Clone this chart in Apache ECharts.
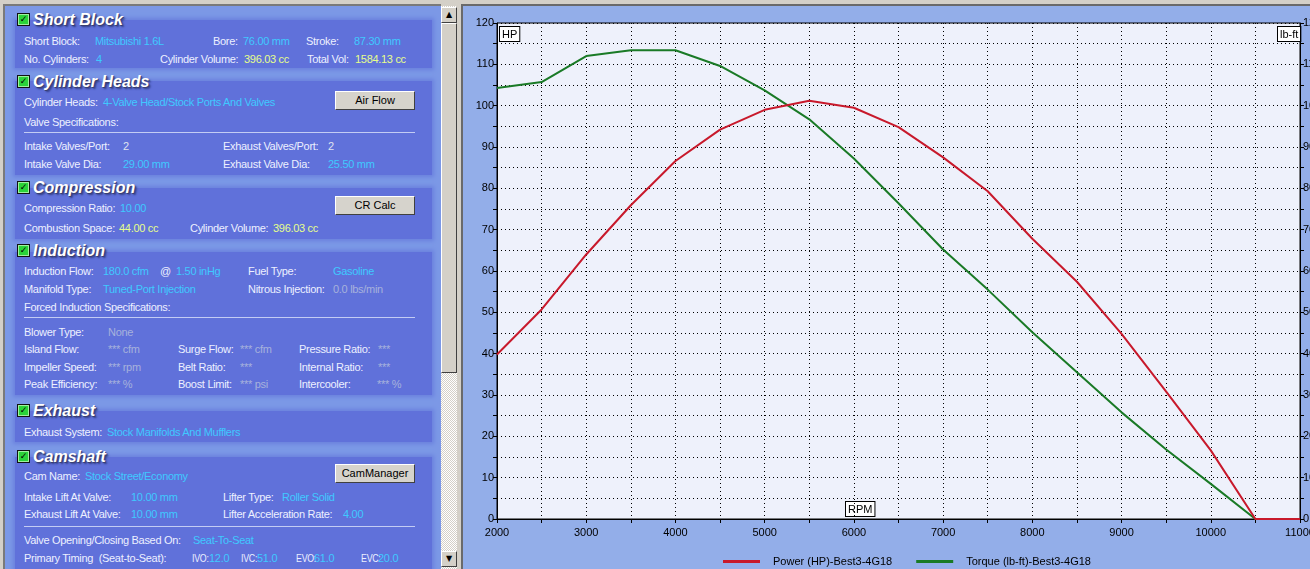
<!DOCTYPE html>
<html>
<head>
<meta charset="utf-8">
<script src="https://cdn.jsdelivr.net/npm/echarts@6/dist/echarts.min.js"></script>
<style>
  html, body { margin:0; padding:0; width:1310px; height:569px; overflow:hidden; background:#d4d0c8; font-family:"Liberation Sans", Arial, sans-serif; }
  #panel { position:absolute; left:3px; top:4px; width:438px; height:565px; background:#7c98e6; border-left:2px solid #7a7a7a; border-top:2px solid #7a7a7a; box-sizing:border-box; }
  .box { position:absolute; left:15px; width:417px; background:#6071da; box-shadow:0 0 4px 2px #6a80de; }
  .hd { position:absolute; left:33px; font:bold italic 16px "Liberation Sans", Arial, sans-serif; color:#fff; text-shadow:1px 1px 0 #3a3f70, 2px 2px 2px #2e3a80; line-height:16px; white-space:nowrap; }
  .cb { position:absolute; left:17px; width:11px; height:11px; background:#2bd33a; border:1px solid #111; box-shadow:inset 0 0 0 1px #9ff0a0; font:bold 9px "DejaVu Sans", sans-serif; line-height:11px; text-align:center; color:#000; }
  .l { position:absolute; font:11px "Liberation Sans", Arial, sans-serif; letter-spacing:-0.3px; line-height:14px; color:#edf0ff; white-space:nowrap; }
  .n { transform:scaleX(0.8); transform-origin:0 50%; }
  .c { color:#3fc9ff; }
  .y { color:#e6ff8c; }
  .g { color:#a7b1dc; }
  .w { color:#dfe2f0; }
  .sep { position:absolute; left:24px; width:391px; height:1px; background:#c3ccf4; }
  .btn { position:absolute; left:335px; width:78px; height:17px; background:#d6d3cc; border:1px solid; border-color:#fff #404040 #404040 #fff; font:11px "Liberation Sans", Arial, sans-serif; line-height:17px; text-align:center; color:#000; }
  #sb { position:absolute; left:441px; top:6px; width:16px; height:563px; background:repeating-conic-gradient(#d4d0c8 0 25%, #fff 0 50%) 0 0/2px 2px; }
  .sbb { position:absolute; left:0; width:14px; background:#d4d0c8; border:1px solid; border-color:#fff #404040 #404040 #fff; font:8px "DejaVu Sans", sans-serif; text-align:center; color:#000; }
  #chart { position:absolute; left:461px; top:4px; width:870px; height:565px; background:#93aee9; border-left:2px solid #6a6a6a; border-top:2px solid #6a6a6a; box-sizing:border-box; }
</style>
</head>
<body>
<div id="panel"></div>

<!-- Short Block -->
<div class="box" style="top:20px;height:48px"></div>
<div class="cb" style="top:13px">✓</div><div class="hd" style="top:12px">Short Block</div>
<span class="l" style="left:24px;top:34px">Short Block:</span>
<span class="l c" style="left:95px;top:34px">Mitsubishi 1.6L</span>
<span class="l" style="left:213px;top:34px">Bore:</span>
<span class="l c" style="left:243px;top:34px">76.00 mm</span>
<span class="l" style="left:306px;top:34px">Stroke:</span>
<span class="l c" style="left:354px;top:34px">87.30 mm</span>
<span class="l" style="left:24px;top:52px">No. Cylinders:</span>
<span class="l c" style="left:96px;top:52px">4</span>
<span class="l" style="left:160px;top:52px">Cylinder Volume:</span>
<span class="l y" style="left:244px;top:52px">396.03 cc</span>
<span class="l" style="left:307px;top:52px">Total Vol:</span>
<span class="l y" style="left:355px;top:52px">1584.13 cc</span>

<!-- Cylinder Heads -->
<div class="box" style="top:81px;height:94px"></div>
<div class="cb" style="top:75px">✓</div><div class="hd" style="top:74px">Cylinder Heads</div>
<span class="l" style="left:24px;top:95px">Cylinder Heads:</span>
<span class="l c" style="left:103px;top:95px">4-Valve Head/Stock Ports And Valves</span>
<div class="btn" style="top:91px">Air Flow</div>
<span class="l" style="left:24px;top:115px">Valve Specifications:</span>
<div class="sep" style="top:132px"></div>
<span class="l" style="left:24px;top:139px">Intake Valves/Port:</span>
<span class="l w" style="left:123px;top:139px">2</span>
<span class="l" style="left:223px;top:139px">Exhaust Valves/Port:</span>
<span class="l w" style="left:328px;top:139px">2</span>
<span class="l" style="left:24px;top:157px">Intake Valve Dia:</span>
<span class="l c" style="left:123px;top:157px">29.00 mm</span>
<span class="l" style="left:223px;top:157px">Exhaust Valve Dia:</span>
<span class="l c" style="left:328px;top:157px">25.50 mm</span>

<!-- Compression -->
<div class="box" style="top:188px;height:51px"></div>
<div class="cb" style="top:181px">✓</div><div class="hd" style="top:180px">Compression</div>
<span class="l" style="left:24px;top:201px">Compression Ratio:</span>
<span class="l c" style="left:120px;top:201px">10.00</span>
<div class="btn" style="top:196px">CR Calc</div>
<span class="l" style="left:24px;top:221px">Combustion Space:</span>
<span class="l y" style="left:119px;top:221px">44.00 cc</span>
<span class="l" style="left:190px;top:221px">Cylinder Volume:</span>
<span class="l y" style="left:273px;top:221px">396.03 cc</span>

<!-- Induction -->
<div class="box" style="top:252px;height:143px"></div>
<div class="cb" style="top:244px">✓</div><div class="hd" style="top:243px">Induction</div>
<span class="l" style="left:24px;top:264px">Induction Flow:</span>
<span class="l c" style="left:103px;top:264px">180.0 cfm</span>
<span class="l" style="left:160px;top:264px">@</span>
<span class="l c" style="left:176px;top:264px">1.50 inHg</span>
<span class="l" style="left:248px;top:264px">Fuel Type:</span>
<span class="l c" style="left:333px;top:264px">Gasoline</span>
<span class="l" style="left:24px;top:282px">Manifold Type:</span>
<span class="l c" style="left:103px;top:282px">Tuned-Port Injection</span>
<span class="l" style="left:248px;top:282px">Nitrous Injection:</span>
<span class="l g" style="left:333px;top:282px">0.0 lbs/min</span>
<span class="l" style="left:24px;top:300px">Forced Induction Specifications:</span>
<div class="sep" style="top:317px"></div>
<span class="l" style="left:24px;top:325px">Blower Type:</span>
<span class="l g" style="left:108px;top:325px">None</span>
<span class="l" style="left:24px;top:342px">Island Flow:</span>
<span class="l g" style="left:108px;top:342px">*** cfm</span>
<span class="l" style="left:178px;top:342px">Surge Flow:</span>
<span class="l g" style="left:240px;top:342px">*** cfm</span>
<span class="l" style="left:299px;top:342px">Pressure Ratio:</span>
<span class="l g" style="left:378px;top:342px">***</span>
<span class="l" style="left:24px;top:360px">Impeller Speed:</span>
<span class="l g" style="left:108px;top:360px">*** rpm</span>
<span class="l" style="left:178px;top:360px">Belt Ratio:</span>
<span class="l g" style="left:240px;top:360px">***</span>
<span class="l" style="left:299px;top:360px">Internal Ratio:</span>
<span class="l g" style="left:378px;top:360px">***</span>
<span class="l" style="left:24px;top:377px">Peak Efficiency:</span>
<span class="l g" style="left:108px;top:377px">*** %</span>
<span class="l" style="left:178px;top:377px">Boost Limit:</span>
<span class="l g" style="left:240px;top:377px">*** psi</span>
<span class="l" style="left:299px;top:377px">Intercooler:</span>
<span class="l g" style="left:377px;top:377px">*** %</span>

<!-- Exhaust -->
<div class="box" style="top:411px;height:31px"></div>
<div class="cb" style="top:404px">✓</div><div class="hd" style="top:403px">Exhaust</div>
<span class="l" style="left:24px;top:425px">Exhaust System:</span>
<span class="l c" style="left:107px;top:425px">Stock Manifolds And Mufflers</span>

<!-- Camshaft -->
<div class="box" style="top:457px;height:120px"></div>
<div class="cb" style="top:450px">✓</div><div class="hd" style="top:449px">Camshaft</div>
<span class="l" style="left:24px;top:469px">Cam Name:</span>
<span class="l c" style="left:85px;top:469px">Stock Street/Economy</span>
<div class="btn" style="top:464px">CamManager</div>
<span class="l" style="left:24px;top:490px">Intake Lift At Valve:</span>
<span class="l c" style="left:131px;top:490px">10.00 mm</span>
<span class="l" style="left:223px;top:490px">Lifter Type:</span>
<span class="l c" style="left:282px;top:490px">Roller Solid</span>
<span class="l" style="left:24px;top:507px">Exhaust Lift At Valve:</span>
<span class="l c" style="left:131px;top:507px">10.00 mm</span>
<span class="l" style="left:223px;top:507px">Lifter Acceleration Rate:</span>
<span class="l c" style="left:343px;top:507px">4.00</span>
<div class="sep" style="top:526px"></div>
<span class="l" style="left:24px;top:533px">Valve Opening/Closing Based On:</span>
<span class="l c" style="left:193px;top:533px">Seat-To-Seat</span>
<span class="l" style="left:24px;top:551px">Primary Timing &nbsp;(Seat-to-Seat):</span>
<span class="l n" style="left:192px;top:551px">IVO:</span>
<span class="l c" style="left:209px;top:551px">12.0</span>
<span class="l n" style="left:241px;top:551px">IVC:</span>
<span class="l c" style="left:257px;top:551px">51.0</span>
<span class="l n" style="left:296px;top:551px">EVO:</span>
<span class="l c" style="left:314px;top:551px">61.0</span>
<span class="l n" style="left:361px;top:551px">EVC:</span>
<span class="l c" style="left:378px;top:551px">20.0</span>

<!-- scrollbar -->
<div id="sb">
  <div class="sbb" style="top:1px;height:14px;line-height:14px">▲</div>
  <div class="sbb" style="top:17px;height:348px"></div>
  <div class="sbb" style="top:545px;height:14px;line-height:14px">▼</div>
</div>

<div id="chart"></div>

<script>
var rpm    = [2000, 2500, 3000, 3500, 4000, 4500, 5000, 5500, 6000, 6500, 7000, 7500, 8000, 8500, 9000, 9500, 10000, 10500, 11000];
var power  = [39.8, 50.7, 64.0, 75.9, 86.6, 94.2, 99.0, 101.2, 99.5, 94.8, 87.5, 79.3, 67.8, 57.4, 44.8, 30.8, 16.6, 0, 0];
var torque = [104.3, 105.7, 112.0, 113.4, 113.4, 109.6, 103.7, 96.7, 87.2, 76.4, 65.2, 55.5, 45.2, 35.5, 25.8, 16.8, 8.5, 0, 0];
var seriesNames = ['Power (HP)-Best3-4G18', 'Torque (lb-ft)-Best3-4G18'];

var chart = echarts.init(document.getElementById('chart'));
var font = 'Liberation Sans';

function pairs(ys) {
    return rpm.map(function (r, i) { return [r, ys[i]]; });
}

function yAxis(pos, grid) {
    return {
        type: 'value',
        position: pos,
        min: 0,
        max: 120,
        interval: 5,
        axisLine: { show: true, lineStyle: { color: '#000', width: 1 } },
        axisTick: { show: true, length: 4, lineStyle: { color: '#000' } },
        axisLabel: {
            color: '#000', fontSize: 11, fontFamily: font, margin: 3,
            formatter: function (v) { return v % 10 === 0 ? v : ''; }
        },
        splitLine: { show: grid, lineStyle: { color: '#000', width: 1, type: [1, 3] } }
    };
}

var option = {
    animation: false,
    grid: {
        left: 34, top: 17, right: 31, bottom: 50,
        show: true, backgroundColor: '#eef1fb', borderColor: '#000', borderWidth: 1
    },
    legend: {
        data: seriesNames,
        top: 545,
        left: 255,
        icon: 'rect',
        itemWidth: 37,
        itemHeight: 3,
        itemGap: 24,
        textStyle: { color: '#000', fontSize: 11, fontFamily: font, padding: [0, 0, 0, 8] }
    },
    xAxis: {
        type: 'value',
        min: 2000,
        max: 11000,
        interval: 500,
        axisLine: { lineStyle: { color: '#000', width: 1 } },
        axisTick: { length: 4, lineStyle: { color: '#000' } },
        axisLabel: {
            color: '#000', fontSize: 11, fontFamily: font, margin: 8,
            formatter: function (v) { return v % 1000 === 0 ? v : ''; }
        },
        splitLine: { show: true, lineStyle: { color: '#000', width: 1, type: [1, 3] } }
    },
    yAxis: [yAxis('left', true), yAxis('right', false)],
    graphic: [
        { type: 'text', left: 36, top: 20, style: { text: 'HP', font: '11px Liberation Sans', fill: '#000', backgroundColor: '#fff', borderColor: '#000', borderWidth: 1, padding: [2, 2, 1, 2] } },
        { type: 'text', left: 814, top: 20, style: { text: 'lb-ft', font: '11px Liberation Sans', fill: '#000', backgroundColor: '#fff', borderColor: '#000', borderWidth: 1, padding: [2, 2, 1, 2] } },
        { type: 'text', left: 382, top: 495, style: { text: 'RPM', font: '11px Liberation Sans', fill: '#000', backgroundColor: '#fff', borderColor: '#000', borderWidth: 1, padding: [2, 2, 1, 2] } }
    ],
    series: [
        {
            name: seriesNames[0],
            type: 'line',
            data: pairs(power),
            symbol: 'none',
            z: 3,
            itemStyle: { color: '#c8192b' },
            lineStyle: { color: '#c8192b', width: 2 }
        },
        {
            name: seriesNames[1],
            type: 'line',
            yAxisIndex: 1,
            data: pairs(torque),
            symbol: 'none',
            z: 2,
            itemStyle: { color: '#1a7a26' },
            lineStyle: { color: '#1a7a26', width: 2 }
        }
    ]
};

chart.setOption(option);
</script>
</body>
</html>
